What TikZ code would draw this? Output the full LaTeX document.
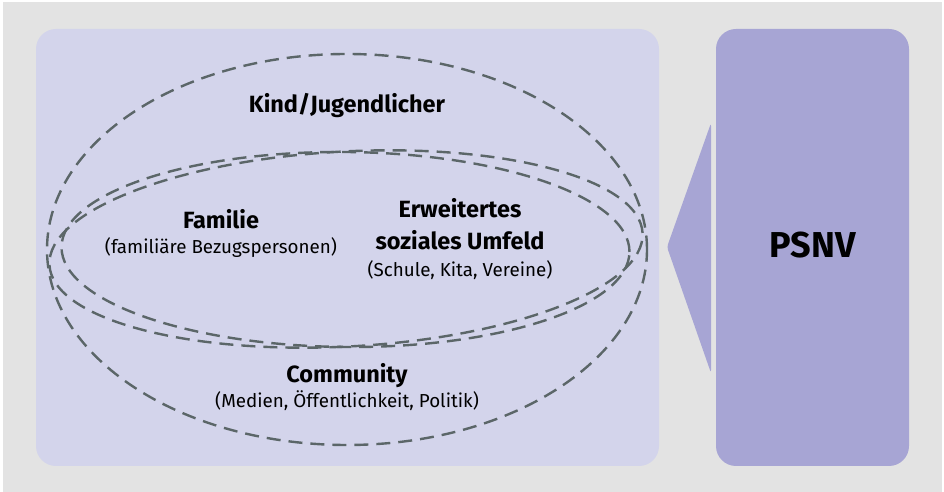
\documentclass[tikz,border=0pt]{standalone}
\usepackage{fontspec}
\setmainfont{Fira Sans}
\definecolor{bgc}{HTML}{E3E3E3}
\definecolor{panelc}{HTML}{D3D4EB}
\definecolor{boxc}{HTML}{A7A5D4}
\definecolor{ringc}{HTML}{5B6668}
\tikzset{
  ring/.style={draw=ringc, line width=2.4pt, dash pattern=on 14pt off 8pt},
  boldlbl/.style={anchor=base, inner sep=0pt, font=\bfseries\fontsize{23.5}{28}\selectfont},
  sublbl/.style={anchor=base, inner sep=0pt, font=\fontsize{18.8}{22}\selectfont},
}
\begin{document}
\begin{tikzpicture}[x=1pt,y=1pt]
\fill[white] (0,0) rectangle (944,492);
\fill[bgc] (3,0) rectangle (942,490);
\useasboundingbox (0,0) rectangle (944,492);
% panels
\fill[panelc, rounded corners=20pt] (36,26) rectangle (659,463);
\fill[boxc, rounded corners=20pt] (716,26) rectangle (909,463);
\fill[boxc, rounded corners=3pt] (711,369) -- (667,245) -- (711,119) -- cycle;
% rings
\draw[ring] (347,242.5) ellipse [x radius=300pt, y radius=195.5pt];
\draw[ring, rotate around={3.1:(346,243)}] (346,243) ellipse [x radius=297pt, y radius=97.5pt];
\draw[ring, rotate around={-0.5:(345.5,242.5)}] (345.5,242.5) ellipse [x radius=284pt, y radius=97.5pt];
% labels
\node[boldlbl] (kind) at (347,379) {Kind/Jugendlicher};
\node[boldlbl] (fam) at (221,263) {Familie};
\node[sublbl] (famsub) at (221,238) {(familiäre Bezugspersonen)};
\node[boldlbl] (erw) at (460,274) {Erweitertes};
\node[boldlbl] (erw2) at (460,242) {soziales Umfeld};
\node[sublbl] (erwsub) at (460,215) {(Schule, Kita, Vereine)};
\node[boldlbl] (comm) at (347,109) {Community};
\node[sublbl] (commsub) at (347,84) {(Medien, Öffentlichkeit, Politik)};
\node[anchor=base, inner sep=0pt, font=\bfseries\fontsize{36}{40}\selectfont] (psnv) at (812.5,234) {PSNV};
\end{tikzpicture}
\end{document}
